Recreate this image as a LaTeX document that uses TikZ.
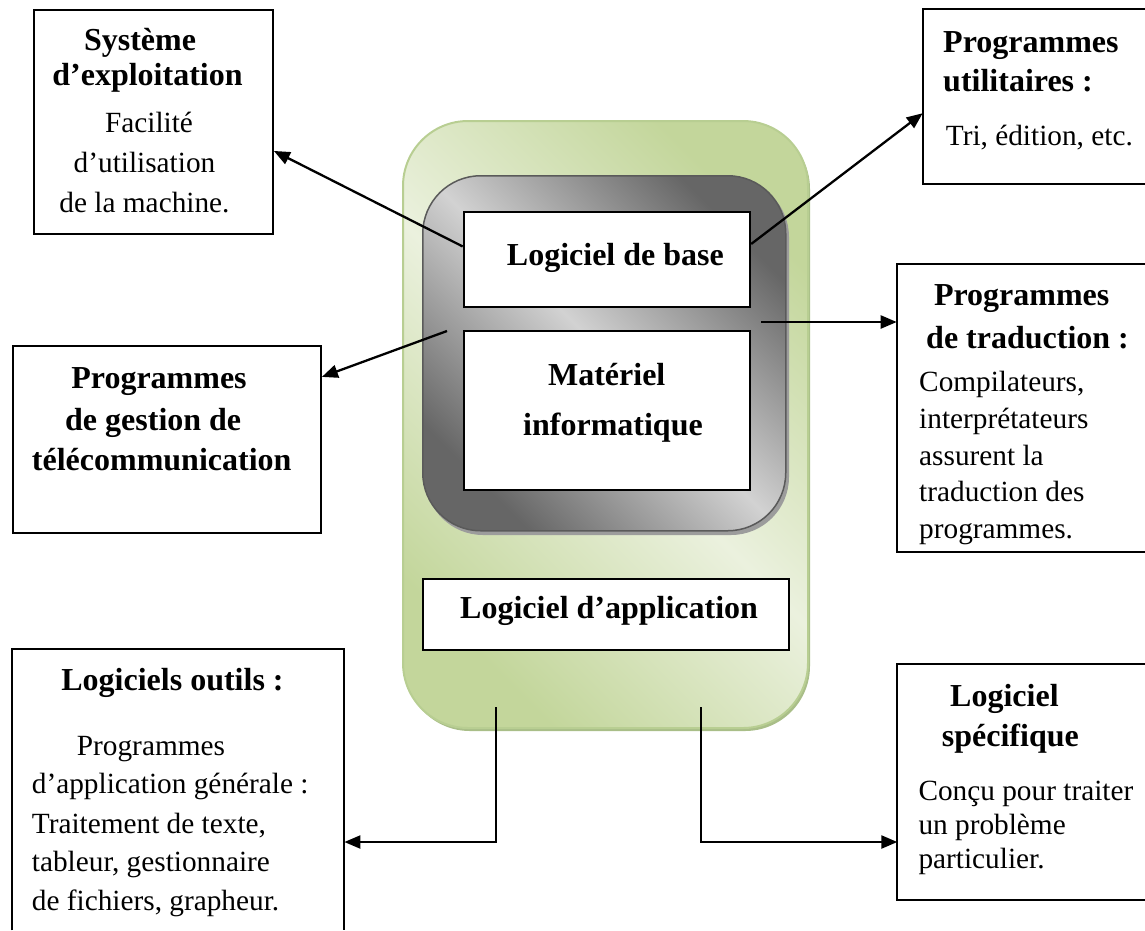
\documentclass[tikz,border=0pt]{standalone}
\usepackage{fontspec}
\setmainfont{Liberation Serif}
\usetikzlibrary{arrows.meta}

\definecolor{greenL}{HTML}{EBF1DE}
\definecolor{greenD}{HTML}{C3D69B}
\definecolor{greenEdge}{HTML}{B8CE92}
\definecolor{greenShadow}{HTML}{A9BE88}
\definecolor{grayL}{HTML}{D2D2D2}
\definecolor{grayD}{HTML}{666666}
\definecolor{grayEdge}{HTML}{5A5A5A}
\definecolor{grayShadow}{HTML}{9C9C9C}

\begin{document}
\begin{tikzpicture}[x=1pt,y=-1pt,
  frame/.style={draw=black, line width=1.9pt, fill=white, inner sep=0pt, anchor=north west},
  openframe/.style={inner sep=0pt, anchor=north west},
  boxline/.style={draw=black, line width=1.9pt},
  bt/.style={font=\fontsize{32}{38}\selectfont\bfseries, inner sep=0pt},
  rt/.style={font=\fontsize{29.3}{36}\selectfont, inner sep=0pt},
  link/.style={line width=2.3pt, -{Triangle[length=16pt,width=13pt]}},
]
\useasboundingbox (0,0) rectangle (1145,930);

% ---- central panels ----
\fill[greenShadow, rounded corners=65pt] (405,124) rectangle (810,731);
\node[draw=greenEdge, line width=2pt, rounded corners=65pt,
      top color=greenD, bottom color=greenD, middle color=greenL, shading angle=-45,
      minimum width=405pt, minimum height=607pt, inner sep=0pt, anchor=north west]
      (panel) at (402,120) {};
\fill[grayShadow, rounded corners=58pt] (425,179) rectangle (789,535);
\node[draw=grayEdge, line width=1.5pt, rounded corners=58pt,
      top color=grayD, bottom color=grayD, middle color=grayL, shading angle=-45,
      minimum width=363pt, minimum height=355pt, inner sep=0pt, anchor=north west]
      (core) at (422,175) {};

\node[frame, minimum width=286.6pt, minimum height=95pt] (base) at (462.7,211) {};
\node[bt, anchor=base west] (baseA) at (506.7,265) {Logiciel de base};

\node[frame, minimum width=286.6pt, minimum height=159pt] (mat) at (462.7,330) {};
\node[bt, anchor=base] (matA) at (606.7,385) {Matériel};
\node[bt, anchor=base] (matB) at (613,435) {informatique};

\node[frame, minimum width=366pt, minimum height=71.3pt] (app) at (422.3,577.7) {};
\node[bt, anchor=base west] (appA) at (460,618.3) {Logiciel d’application};

% ---- surrounding boxes ----
\node[frame, minimum width=239pt, minimum height=224pt] (sys) at (33,9) {};
\node[bt, anchor=base] (sysA) at (140,50) {Système};
\node[bt, anchor=base] (sysB) at (147.5,85) {d’exploitation};
\node[rt, anchor=base] (sysC) at (149,132) {Facilité};
\node[rt, anchor=base] (sysD) at (144.5,172) {d’utilisation};
\node[rt, anchor=base] (sysE) at (144.5,212) {de la machine.};

\node[openframe, minimum width=222.3pt, minimum height=174pt] (util) at (922.7,9.3) {};
\draw[boxline] (util.north east) -- (util.north west) -- (util.south west) -- (util.south east);
\node[bt, anchor=base west] (utilA) at (943,52) {Programmes};
\node[bt, anchor=base west] (utilB) at (943,91.7) {utilitaires :};
\node[rt, anchor=base west] (utilC) at (945.7,145) {Tri, édition, etc.};

\node[openframe, minimum width=248.3pt, minimum height=287.7pt] (trad) at (896.7,264) {};
\draw[boxline] (trad.north east) -- (trad.north west) -- (trad.south west) -- (trad.south east);
\node[bt, anchor=base] (tradA) at (1021.7,305) {Programmes};
\node[bt, anchor=base west] (tradB) at (926,348.3) {de traduction :};
\node[rt, anchor=base west] (tradC) at (919,391.7) {Compilateurs,};
\node[rt, anchor=base west] (tradD) at (919,428.3) {interprétateurs};
\node[rt, anchor=base west] (tradE) at (919,465) {assurent la};
\node[rt, anchor=base west] (tradF) at (919,501.7) {traduction des};
\node[rt, anchor=base west] (tradG) at (919,538.3) {programmes.};

\node[frame, minimum width=308.3pt, minimum height=187.3pt] (gest) at (11.7,345) {};
\node[bt, anchor=base] (gestA) at (159,388.3) {Programmes};
\node[bt, anchor=base west] (gestB) at (65,430) {de gestion de};
\node[bt, anchor=base] (gestC) at (161.7,470) {télécommunication};

\node[openframe, minimum width=332.3pt, minimum height=281pt] (outils) at (11.7,649) {};
\draw[boxline] (outils.south west) -- (outils.north west) -- (outils.north east) -- (outils.south east);
\node[bt, anchor=base] (outA) at (172.5,690) {Logiciels outils :};
\node[rt, anchor=base west] (outB) at (76.7,755) {Programmes};
\node[rt, anchor=base west] (outC) at (31.7,793.3) {d’application générale :};
\node[rt, anchor=base west] (outD) at (31.7,833.3) {Traitement de texte,};
\node[rt, anchor=base west] (outE) at (31.7,871.7) {tableur, gestionnaire};
\node[rt, anchor=base west] (outF) at (31.7,910) {de fichiers, grapheur.};

\node[openframe, minimum width=247.7pt, minimum height=235.7pt] (spec) at (897.3,664.3) {};
\draw[boxline] (spec.north east) -- (spec.north west) -- (spec.south west) -- (spec.south east);
\node[bt, anchor=base west] (specA) at (950,706) {Logiciel};
\node[bt, anchor=base west] (specB) at (941.7,746.7) {spécifique};
\node[rt, anchor=base west] (specC) at (918.3,800) {Conçu pour traiter};
\node[rt, anchor=base west] (specD) at (918.3,834) {un problème};
\node[rt, anchor=base west] (specE) at (918.3,868.3) {particulier.};

% ---- connectors ----
\draw[link] ([yshift=13pt]base.west) -- ([yshift=-29pt]sys.east);
\draw[link] ([yshift=15.5pt]base.east) -- ([yshift=-16.7pt]util.west);

\coordinate (tapR) at (761,322);
\draw[link] (tapR) -- (tapR -| trad.west);

\coordinate (tapL) at (447,331);
\draw[link] (tapL) -- ([yshift=62.7pt]gest.east);

\coordinate (tapBL) at (496,707);
\coordinate (bendBL) at (496,842);
\draw[link] (tapBL) -- (bendBL) -- (bendBL -| outils.east);

\coordinate (tapBR) at (701,707);
\coordinate (bendBR) at (701,842);
\draw[link] (tapBR) -- (bendBR) -- (bendBR -| spec.west);
\end{tikzpicture}
\end{document}
